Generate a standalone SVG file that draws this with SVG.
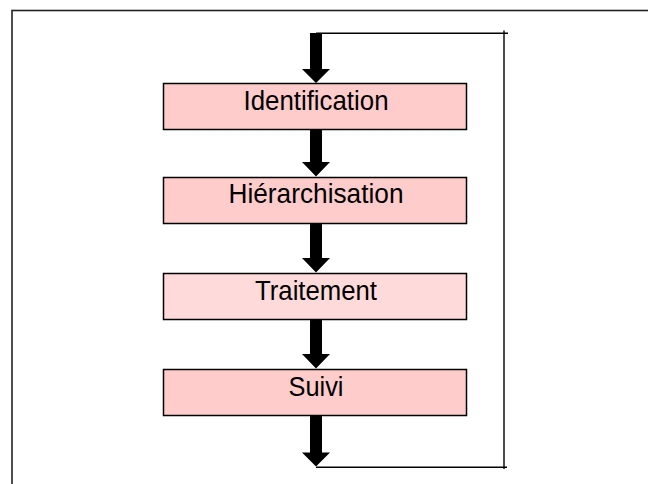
<svg xmlns="http://www.w3.org/2000/svg" width="648" height="484" viewBox="0 0 648 484">
<defs>
<style>
.box{stroke:#000;stroke-width:1.5}
.lbl{font-family:"Liberation Sans",Arial,sans-serif;font-size:27.5px;fill:#000;text-anchor:middle}
.fb{stroke:#000;stroke-width:1.4;fill:none}
.arr{fill:#000}
</style>
</defs>
<rect width="648" height="484" fill="#fff"/>
<rect x="12" y="10.5" width="700" height="520" fill="none" stroke="#222" stroke-width="1.6"/>
<g id="connectors">
<path class="arr" d="M310,33 H322 V69 H330 L316,83 L302,69 H310 Z"/>
<path class="arr" d="M310,129.5 H322 V162 H330 L316,176.5 L302,162 H310 Z"/>
<path class="arr" d="M310,223.5 H322 V258 H330 L316,272.5 L302,258 H310 Z"/>
<path class="arr" d="M310,319.5 H322 V354 H330 L316,368.5 L302,354 H310 Z"/>
<path class="arr" d="M310,415.5 H322 V452.5 H330 L316,466.5 L302,452.5 H310 Z"/>
<line class="fb" x1="316" y1="33.3" x2="508" y2="33.3"/>
<line class="fb" x1="504" y1="30.5" x2="504" y2="469"/>
<line class="fb" x1="316" y1="467.3" x2="507" y2="467.3"/>
</g>
<g id="identification">
<rect class="box" x="163.5" y="83.5" width="303" height="46" fill="#ffcccc"/>
<text class="lbl" x="316" y="109.5" textLength="145" lengthAdjust="spacingAndGlyphs">Identification</text>
</g>
<g id="hierarchisation">
<rect class="box" x="163.5" y="177.5" width="303" height="46" fill="#ffcccc"/>
<text class="lbl" x="316" y="202.5" textLength="175" lengthAdjust="spacingAndGlyphs">Hiérarchisation</text>
</g>
<g id="traitement">
<rect class="box" x="163.5" y="273.5" width="303" height="46" fill="#ffdada"/>
<text class="lbl" x="316" y="300" textLength="122" lengthAdjust="spacingAndGlyphs">Traitement</text>
</g>
<g id="suivi">
<rect class="box" x="163.5" y="369.5" width="303" height="46" fill="#ffcccc"/>
<text class="lbl" x="316" y="396" textLength="55" lengthAdjust="spacingAndGlyphs">Suivi</text>
</g>
</svg>
